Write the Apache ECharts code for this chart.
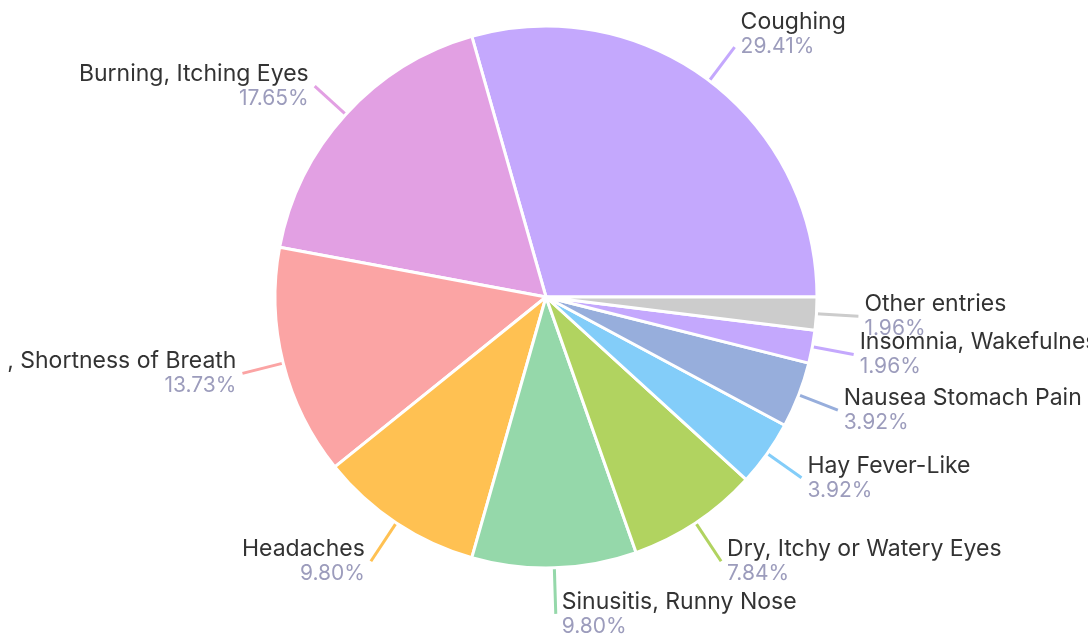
<!DOCTYPE html>
<html><head><meta charset="utf-8">
<script src="https://cdn.jsdelivr.net/npm/echarts@6/dist/echarts.min.js"></script>
<style>html,body{margin:0;padding:0;background:#fff}#c{width:1088px;height:636px}</style>
</head><body><div id="c"></div>
<script>
const categories = ["Coughing","Burning, Itching Eyes",", Shortness of Breath","Headaches","Sinusitis, Runny Nose","Dry, Itchy or Watery Eyes","Hay Fever-Like","Nausea Stomach Pain","Insomnia, Wakefulness","Other entries"];
const values = [15, 9, 7, 5, 5, 4, 2, 2, 1, 1];
const colors = ["#c4a8fd","#e2a0e3","#fba4a4","#ffc152","#95d8aa","#b1d360","#83cdf9","#97aedc","#c4a8fd","#cccccc"];

const FONT = 'Inter';
const total = values.reduce((a,b)=>a+b,0);
const longerLines = [3, 4, 5];
const chart = echarts.init(document.getElementById('c'), null, {renderer: 'canvas'});
chart.setOption({
  animation: false,
  series: [{
    type: 'pie',
    center: [546, 297],
    radius: 271,
    startAngle: 0,
    clockwise: false,
    avoidLabelOverlap: false,
    minShowLabelAngle: 0,
    data: categories.map((c,i)=>{
      const d = {name: c, value: values[i], itemStyle: {color: colors[i]}};
      if (longerLines.indexOf(i) >= 0) d.labelLine = {length: 46};
      return d;
    }),
    itemStyle: {borderColor: '#ffffff', borderWidth: 3},
    labelLayout: {hideOverlap: false},
    label: {
      show: true,
      position: 'outside',
      distanceToLabelLine: 6,
      overflow: 'none',
      formatter: p => '{n|' + p.name + '}\n{p|' + (p.value / total * 100).toFixed(2) + '%}' + (p.dataIndex === 0 ? '\n{e|}' : ''),
      rich: {
        n: {fontFamily: FONT, fontSize: 23, color: '#333333', lineHeight: 25},
        p: {fontFamily: FONT, fontSize: 21, color: '#9c9cbc', lineHeight: 24},
        e: {fontSize: 10, lineHeight: 26}
      }
    },
    labelLine: {show: true, length: 42, length2: 0, smooth: false, lineStyle: {width: 3}}
  }]
});
</script></body></html>
